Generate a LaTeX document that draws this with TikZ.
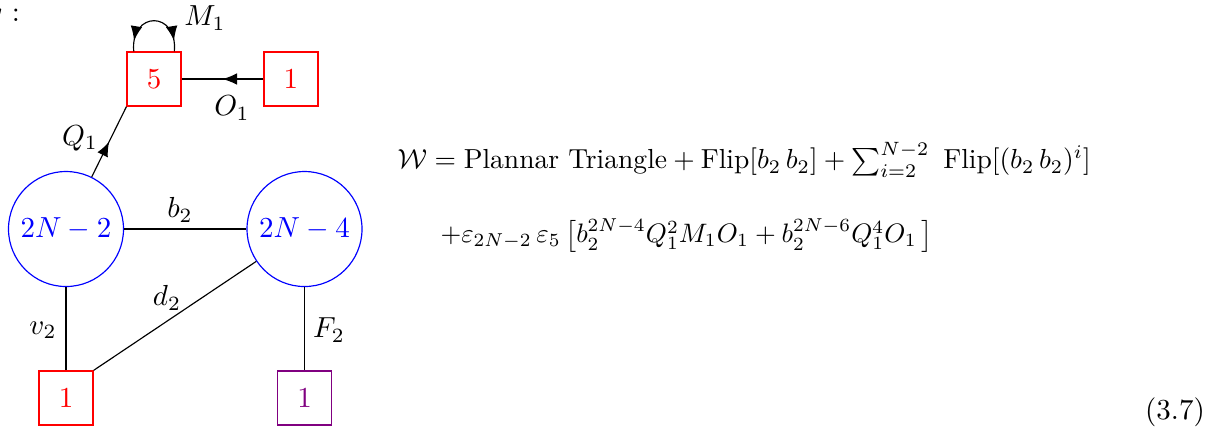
\documentclass[tikz,border=0pt]{standalone}
\usepackage{amsmath}
\usetikzlibrary{arrows.meta, positioning, calc, decorations.markings}
\colorlet{gaugecol}{blue}
\colorlet{flavcol}{red}
\definecolor{flavtwo}{rgb}{0.5,0,0.5}

\begin{document}
\begin{tikzpicture}[
    >={Latex[length=5pt,width=4pt]},
    gauge/.style={circle, draw=gaugecol, text=gaugecol, minimum size=1.394cm,
                  inner sep=0pt},
    flav/.style={rectangle, draw=flavcol, text=flavcol, minimum size=0.655cm,
                 inner sep=0pt},
    midarrow/.style={postaction={decorate, decoration={markings,
                     mark=at position #1 with {\arrow{>}}}}},
    looparrows/.style={postaction={decorate, decoration={markings,
                     mark=at position 0.13 with {\arrowreversed{>}},
                     mark=at position 0.87 with {\arrow{>}}}}},
    lbl/.style={inner sep=1pt},
    eqline/.style={anchor=base west, inner sep=0pt, scale=#1,
                   transform shape},
]

\useasboundingbox (0,0) rectangle (14.933,-5.297);

% cut-off text from the line above
\node[anchor=east, inner sep=0pt] (prev) at (0.25,-0.22) {$y$ :};

% gauge nodes
\node[gauge] (c1) at (0.800,-2.776) {$2N-2$};
\node[gauge] (c2) at (3.691,-2.776) {$2N-4$};

% flavour nodes
\node[flav] (b5) at (1.867,-0.958) {$5$};
\node[flav] (o1) at (3.527,-0.958) {$1$};
\node[flav] (f1) at (0.800,-4.824) {$1$};
\node[flav, draw=flavtwo, text=flavtwo] (f2) at (3.691,-4.824) {$1$};

% edges
\draw (c1) -- (c2);
\draw (c1) -- (f1);
\draw (f1.north east) -- (c2);
\draw (c2) -- (f2);
\draw[midarrow=0.5] (o1) -- (b5);
\draw[midarrow=0.5] (c1) -- (b5.south west);
\draw[looparrows] ([xshift=-7pt]b5.north) to[out=95, in=85, looseness=2.6]
    ([xshift=7pt]b5.north);

% edge labels
\node[lbl] (lM) at (2.485,-0.218) {$M_1$};
\node[lbl] (lO) at (2.812,-1.309) {$O_1$};
\node[lbl] (lQ) at (0.970,-1.673) {$Q_1$};
\node[lbl] (lb) at (2.182,-2.545) {$b_2$};
\node[lbl] (ld) at (2.024,-3.612) {$d_2$};
\node[lbl] (lv) at (0.521,-4.000) {$v_2$};
\node[lbl] (lF) at (3.988,-4.000) {$F_2$};

% superpotential
\node[eqline=0.95] (w1) at (4.812,-2.048)
    {$\mathcal{W} = \text{Plannar Triangle} + \text{Flip}[b_2\, b_2]
     + \sum_{i=2}^{N-2}\ \text{Flip}[(b_2\, b_2)^i]$};
\node[eqline=0.92] (w2) at (5.333,-2.945)
    {$+\varepsilon_{2N-2}\, \varepsilon_5 \left[ b_2^{2N-4} Q_1^2 M_1 O_1
     + b_2^{2N-6} Q_1^4 O_1 \, \right]$};

% equation number
\node (eqn) at (14.242,-4.994) {(3.7)};

\end{tikzpicture}
\end{document}
